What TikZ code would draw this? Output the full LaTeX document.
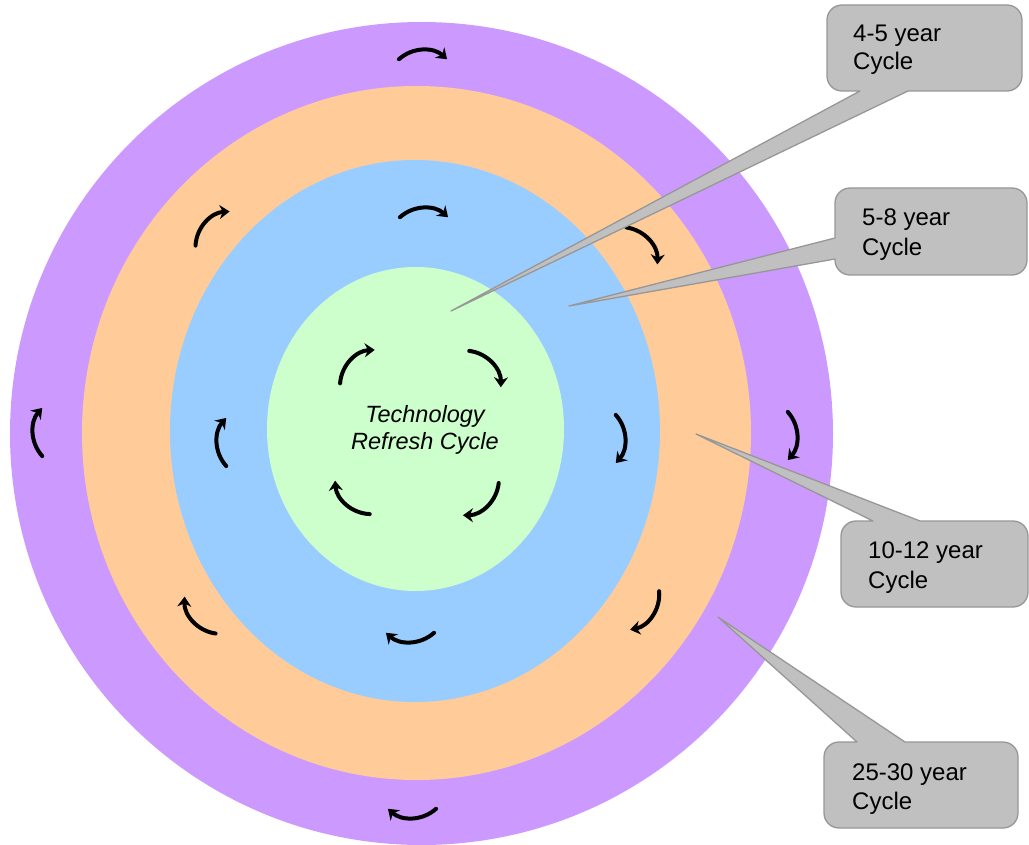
\documentclass[tikz,border=0pt]{standalone}
\usepackage{fontspec}
\setmainfont{Liberation Sans}
\usetikzlibrary{arrows.meta,calc}
\definecolor{ringA}{HTML}{CC99FF}
\definecolor{ringB}{HTML}{FFCC99}
\definecolor{ringC}{HTML}{99CCFF}
\definecolor{ringD}{HTML}{CCFFCC}
\definecolor{calfill}{HTML}{C0C0C0}
\definecolor{calline}{HTML}{979797}
\begin{document}
\begin{tikzpicture}[x=1pt,y=-1pt,
  cyc/.style={line width=4pt, line cap=round, -{Stealth[length=10pt,width=14pt]}},
  callout/.style={fill=calfill, draw=calline, line width=1.3pt, line join=round},
  lab/.style={font=\fontsize{24}{28}\selectfont, anchor=base west, inner sep=0pt},
  ctext/.style={font=\fontsize{23.5}{27}\selectfont\itshape, anchor=base, inner sep=0pt}]
\useasboundingbox (0,0) rectangle (1029,845);
% rings
\fill[ringA] (421.5,433.5) ellipse [x radius=411.5, y radius=411.5];
\fill[ringB] (416.5,433) ellipse [x radius=334.5, y radius=347];
\fill[ringC] (415,431) ellipse [x radius=245, y radius=271];
\fill[ringD] (415.5,429) ellipse [x radius=148.5, y radius=162];
% cycle arrows (apex x / apex y / direction)
\foreach \x/\y/\p in {423/50/-90, 797/436/0, 412/818/90, 33/432/180,
                      206/222/-135, 649/240/-40, 652/616/37, 193/621/140,
                      424/208/-90, 625/439/0, 410/642/90, 217/442/180,
                      351/360/-134, 492/363/-41, 487/506/48, 346/504/134}{
  \draw[cyc] ($(\x,\y)+(\p+180:36)+(\p-42:36)$) arc[start angle=\p-42, end angle=\p+42, radius=36];
}
% centre text
\node[ctext] (tr1) at (425,422) {Technology};
\node[ctext] (tr2) at (425,449) {Refresh Cycle};
% callouts
\coordinate (t1) at (451,311);
\coordinate (t2) at (569,306);
\coordinate (t3) at (696,434);
\coordinate (t4) at (718,617);
\draw[callout] [rounded corners=15pt] (1022,48) -- (1022,5) -- (827,5) -- (827,91) [sharp corners] -- (860,91) -- (t1) -- (908,91) [rounded corners=15pt] -- (1022,91) -- cycle;
\draw[callout] [rounded corners=15pt] (1027,230) -- (1027,275) -- (835,275) [sharp corners] -- (835,259) -- (t2) -- (835,238) [rounded corners=15pt] -- (835,188) -- (1027,188) -- cycle;
\draw[callout] [rounded corners=15pt] (1028,560) -- (1028,607) -- (841,607) -- (841,521) [sharp corners] -- (873,521) -- (t3) -- (920,521) [rounded corners=15pt] -- (1028,521) -- cycle;
\draw[callout] [rounded corners=15pt] (1018,785) -- (1018,828) -- (824,828) -- (824,742) [sharp corners] -- (857,742) -- (t4) -- (905,742) [rounded corners=15pt] -- (1018,742) -- cycle;
\node[lab] (l1a) at (853,42) {4-5 year};
\node[lab] (l1b) at (853,70) {Cycle};
\node[lab] (l2a) at (862,226) {5-8 year};
\node[lab] (l2b) at (862,256) {Cycle};
\node[lab] (l3a) at (868,558) {10-12 year};
\node[lab] (l3b) at (868,588) {Cycle};
\node[lab] (l4a) at (852,780) {25-30 year};
\node[lab] (l4b) at (852,809) {Cycle};
\end{tikzpicture}
\end{document}
